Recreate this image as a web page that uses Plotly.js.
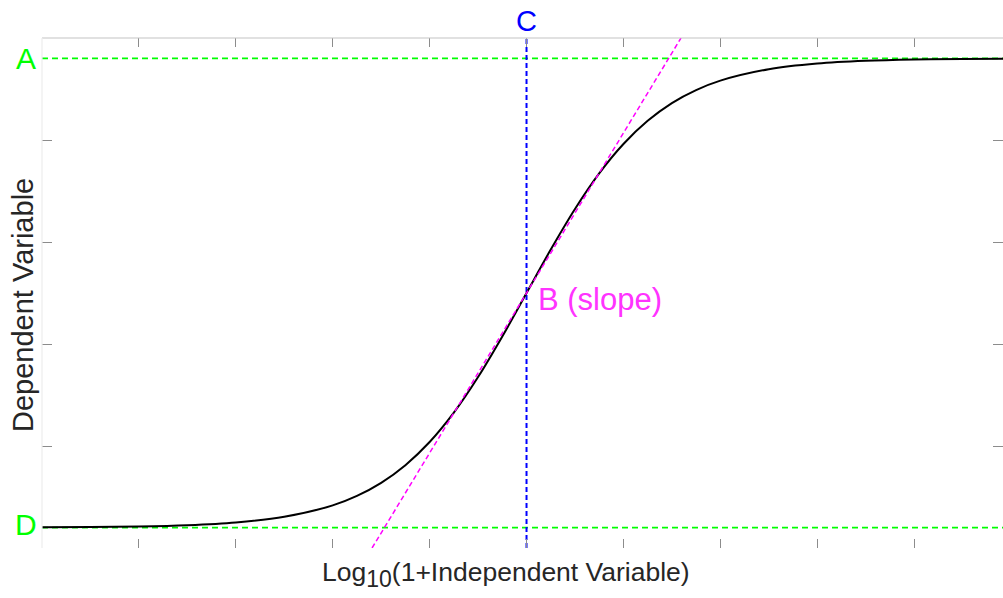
<!DOCTYPE html>
<html>
<head>
<meta charset="utf-8">
<script src="https://cdn.plot.ly/plotly-3.0.1.min.js"></script>
<style>html,body{margin:0;padding:0;background:#fff;}#chart{width:1003px;height:598px;}</style>
</head>
<body>
<div id="chart"></div>
<script>
// Curve readings (x in log units, y in axis units)
const curveX = [0, 0.5, 1, 1.5, 2, 2.5, 3, 3.25, 3.5, 3.75, 4, 4.25, 4.5, 4.75, 5, 5.25, 5.5, 5.75, 6, 6.25, 6.5, 6.75, 7, 7.5, 8, 8.5, 9, 9.5, 9.92];
const curveY = [0.203, 0.205, 0.211, 0.224, 0.251, 0.306, 0.418, 0.511, 0.639, 0.812, 1.039, 1.327, 1.676, 2.074, 2.5, 2.926, 3.324, 3.673, 3.961, 4.188, 4.362, 4.489, 4.582, 4.694, 4.749, 4.776, 4.789, 4.795, 4.797];
const levelA = 4.8;
const levelD = 0.2;
const centerC = 5;
const slopeX = [3.406, 6.594];
const slopeY = [0, 5];
const xRange = [0, 9.917];
const yRange = [0, 5];
const xTicks = [1, 2, 3, 4, 5, 6, 7, 8, 9];
const yTicks = [1, 2, 3, 4];
const labels = {A: 'A', B: 'B (slope)', C: 'C', D: 'D'};
const xTitle = 'Log<sub><span style="font-size:23px">10</span></sub>(1+Independent Variable)';
const yTitle = 'Dependent Variable';

const font = 'Arial, "Liberation Sans", sans-serif';

const traces = [
  {x: xRange, y: [levelA, levelA], mode: 'lines', line: {color: '#00ff00', width: 1.6, dash: '6px,4px'}, hoverinfo: 'skip'},
  {x: xRange, y: [levelD, levelD], mode: 'lines', line: {color: '#00ff00', width: 1.6, dash: '6px,4px'}, hoverinfo: 'skip'},
  {x: [centerC, centerC], y: yRange, mode: 'lines', line: {color: '#0000ff', width: 2, dash: '5px,3px'}, hoverinfo: 'skip'},
  {x: curveX, y: curveY, mode: 'lines', line: {color: '#000000', width: 2, shape: 'spline'}},
  {x: slopeX, y: slopeY, mode: 'lines', line: {color: '#ff00ff', width: 1.5, dash: '5px,3px'}, hoverinfo: 'skip'}
];

const layout = {
  width: 1003, height: 598,
  margin: {l: 42, r: 0, t: 38, b: 50, pad: 0},
  paper_bgcolor: '#ffffff', plot_bgcolor: '#ffffff',
  showlegend: false,
  font: {family: font, color: '#262626'},
  xaxis: {range: xRange, tickvals: xTicks, showticklabels: false, ticks: 'inside', ticklen: 9, tickcolor: '#8c8c8c', tickwidth: 1,
          mirror: 'ticks', showline: true, linecolor: 'rgba(0,0,0,0)', showgrid: false, zeroline: false, fixedrange: true},
  yaxis: {range: yRange, tickvals: yTicks, showticklabels: false, ticks: 'inside', ticklen: 10, tickcolor: '#8c8c8c', tickwidth: 1,
          mirror: 'ticks', showline: true, linecolor: 'rgba(0,0,0,0)', showgrid: false, zeroline: false, fixedrange: true},
  shapes: [
    {type: 'line', xref: 'paper', yref: 'paper', x0: 0, x1: 1, y0: 1, y1: 1, line: {color: '#c4c4c4', width: 1.2}},
    {type: 'line', xref: 'paper', yref: 'paper', x0: 0, x1: 0, y0: 0, y1: 1, line: {color: '#ededed', width: 1.2}}
  ],
  annotations: [
    {text: labels.A, xref: 'paper', yref: 'y', x: 0, y: levelA, xanchor: 'right', yanchor: 'middle', xshift: -4, yshift: 0, showarrow: false, font: {size: 30, color: '#00ff00', family: font}},
    {text: labels.D, xref: 'paper', yref: 'y', x: 0, y: levelD, xanchor: 'right', yanchor: 'middle', xshift: -3, yshift: 3, showarrow: false, font: {size: 30, color: '#00ff00', family: font}},
    {text: labels.C, xref: 'x', yref: 'paper', x: centerC, y: 1, xanchor: 'center', yanchor: 'bottom', yshift: -1, showarrow: false, font: {size: 29, color: '#0000ff', family: font}},
    {text: labels.B, xref: 'x', yref: 'y', x: centerC, y: 2.5, xanchor: 'left', yanchor: 'middle', xshift: 9, yshift: -6, showarrow: false, font: {size: 31, color: '#ff33ff', family: font}},
    {text: xTitle, xref: 'paper', yref: 'paper', x: 0.483, y: 0, xanchor: 'center', yanchor: 'top', yshift: -7, showarrow: false, font: {size: 26.5, color: '#262626', family: font}},
    {text: yTitle, xref: 'paper', yref: 'paper', x: 0, y: 0.5, xanchor: 'center', yanchor: 'middle', xshift: -19, yshift: -12, textangle: -90, showarrow: false, font: {size: 29, color: '#262626', family: font}}
  ]
};

Plotly.newPlot('chart', traces, layout, {displayModeBar: false, staticPlot: true});
</script>
</body>
</html>
